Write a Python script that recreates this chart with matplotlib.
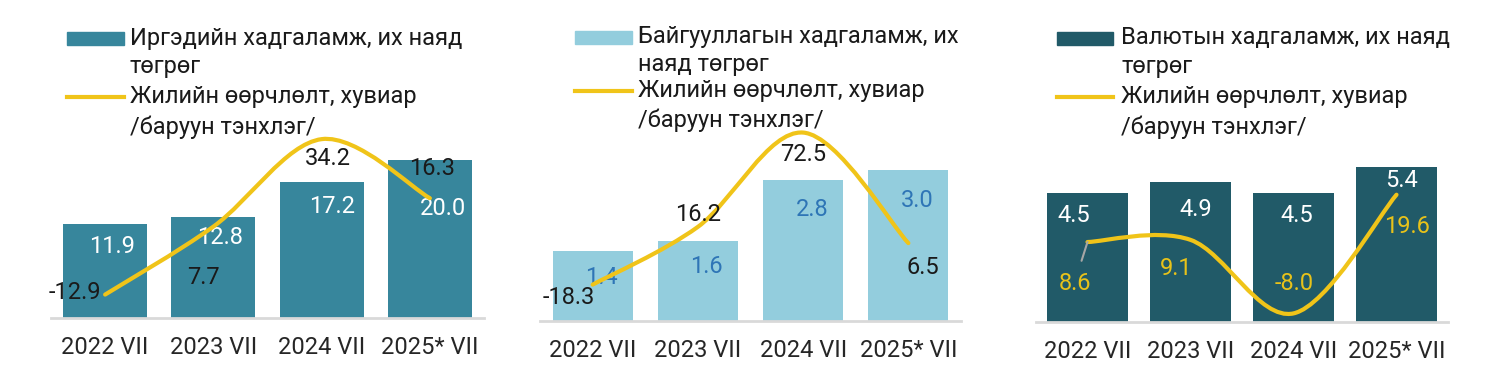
import matplotlib
matplotlib.use("Agg")
import matplotlib.pyplot as plt
import numpy as np
from matplotlib.path import Path
from matplotlib.patches import PathPatch, Rectangle
from matplotlib.lines import Line2D

plt.rcParams['font.family'] = ['Roboto', 'DejaVu Sans']

periods = ["2022 VII", "2023 VII", "2024 VII", "2025* VII"]

household = [11.9, 12.8, 17.2, 20.0]
household_chg = [-12.9, 7.7, 34.2, 16.3]
corporate = [1.4, 1.6, 2.8, 3.0]
corporate_chg = [-18.3, 16.2, 72.5, 6.5]
fx_dep = [4.5, 4.9, 4.5, 5.4]
fx_chg = [8.6, 9.1, -8.0, 19.6]

bar_names = ["Иргэдийн хадгаламж, их наяд\nтөгрөг",
             "Байгууллагын хадгаламж, их\nнаяд төгрөг",
             "Валютын хадгаламж, их наяд\nтөгрөг"]
line_name = "Жилийн өөрчлөлт, хувиар\n/баруун тэнхлэг/"

W, H = 1504, 384
YELLOW = "#f0c419"
FS = 17


def smooth_path(xs, ys):
    # excel-like smoothed line: catmull-rom -> cubic bezier
    p = np.column_stack([xs, ys]).astype(float)
    n = len(p)
    verts = [p[0]]
    codes = [Path.MOVETO]
    for i in range(n - 1):
        prev = p[max(i - 1, 0)]
        nxt = p[min(i + 2, n - 1)]
        c1 = p[i] + (p[i + 1] - prev) / 6
        c2 = p[i + 1] - (nxt - p[i]) / 6
        verts += [c1, c2, p[i + 1]]
        codes += [Path.CURVE4] * 3
    return Path(verts, codes)


panels = [
    dict(bars=household, chg=household_chg, name=bar_names[0], color="#37869c",
         box=(51, 120, 484, 318), ylim=(0, 25), y2lim=(-20, 40), bw=0.775,
         barcol="white", linecol="#1a1a1a",
         bar_off=[(7, -23), (7, -21), (10, -25), (13, -49)],
         line_off=[(-30, 2), (-10, -51), (6, -19), (2, 30)],
         leg=(67, 124, 130, [38, 67, 97, 127])),
    dict(bars=corporate, chg=corporate_chg, name=bar_names[1], color="#93cddd",
         box=(540, 120, 961, 321), ylim=(0, 4), y2lim=(-40, 80), bw=0.76,
         barcol="#2e75b6", linecol="#1a1a1a",
         bar_off=[(9, -27), (9, -26), (9, -29), (9, -30)],
         line_off=[(-24, -13), (0, 12), (0, -22), (15, -24)],
         leg=(575, 632, 638, [37, 65, 91, 120])),
    dict(bars=fx_dep, chg=fx_chg, name=bar_names[2], color="#215a68",
         box=(1036, 150, 1448, 322), ylim=(0, 6), y2lim=(-10, 30), bw=0.777,
         barcol="white", linecol="#e8c21a",
         bar_off=[(-14, -22), (5, -28), (3, -22), (5, -13)],
         line_off=[(-13, -41), (-14, -29), (1, 30), (10, -32)],
         leg=(1057, 1113, 1121, [38, 67, 97, 127])),
]

fig = plt.figure(figsize=(W / 100, H / 100), dpi=100)

for k, pn in enumerate(panels):
    l, t, r, b = pn["box"]
    ax = fig.add_axes([l / W, 1 - b / H, (r - l) / W, (b - t) / H])
    x = np.arange(len(periods))
    ax.bar(x, pn["bars"], width=pn["bw"], color=pn["color"], zorder=2)
    ax.set_xlim(-0.5, 3.5)
    ax.set_ylim(pn["ylim"])
    ax.set_xticks(x, periods)
    ax.set_yticks([])
    ax.tick_params(axis="x", length=0, pad=13, labelsize=FS, labelcolor="#262626")
    for s in ["top", "right", "left"]:
        ax.spines[s].set_visible(False)
    ax.spines["bottom"].set_color("#d9d9d9")
    ax.spines["bottom"].set_linewidth(2)
    ax.patch.set_alpha(0)

    ax2 = ax.twinx()
    ax2.set_ylim(pn["y2lim"])
    ax2.set_yticks([])
    for s in ax2.spines.values():
        s.set_visible(False)
    ax2.add_patch(PathPatch(smooth_path(x, pn["chg"]), fill=False, ec=YELLOW,
                            lw=3, capstyle="round", zorder=3))

    for i, v in enumerate(pn["bars"]):
        ax.annotate(f"{v:.1f}", xy=(i, v), xytext=pn["bar_off"][i],
                    textcoords="offset pixels", ha="center", va="center",
                    fontsize=FS, color=pn["barcol"], zorder=4)
    for i, v in enumerate(pn["chg"]):
        arrow = None
        if k == 2 and i == 0:
            arrow = dict(arrowstyle="-", color="#a6a6a6", lw=1.5,
                         shrinkA=6, shrinkB=0)
        ax2.annotate(f"{v:.1f}", xy=(i, v), xytext=pn["line_off"][i],
                     textcoords="offset pixels", ha="center", va="center",
                     fontsize=FS, color=pn["linecol"], arrowprops=arrow, zorder=4)

    # legend drawn by hand so the keys sit on the first line of text
    x0, x1, tx, ys = pn["leg"]
    fig.add_artist(Rectangle((x0 / W, 1 - (ys[0] + 6.5) / H), (x1 - x0) / W, 13 / H,
                             transform=fig.transFigure, color=pn["color"]))
    fig.add_artist(Line2D([x0 / W, x1 / W], [1 - ys[2] / H] * 2,
                          transform=fig.transFigure, color=YELLOW, lw=3))
    for j, s in enumerate(pn["name"].split("\n") + line_name.split("\n")):
        fig.text(tx / W, 1 - ys[j] / H, s, ha="left", va="center",
                 fontsize=FS, color="#1a1a1a")

fig.savefig("out.png", dpi=100, facecolor="white")
